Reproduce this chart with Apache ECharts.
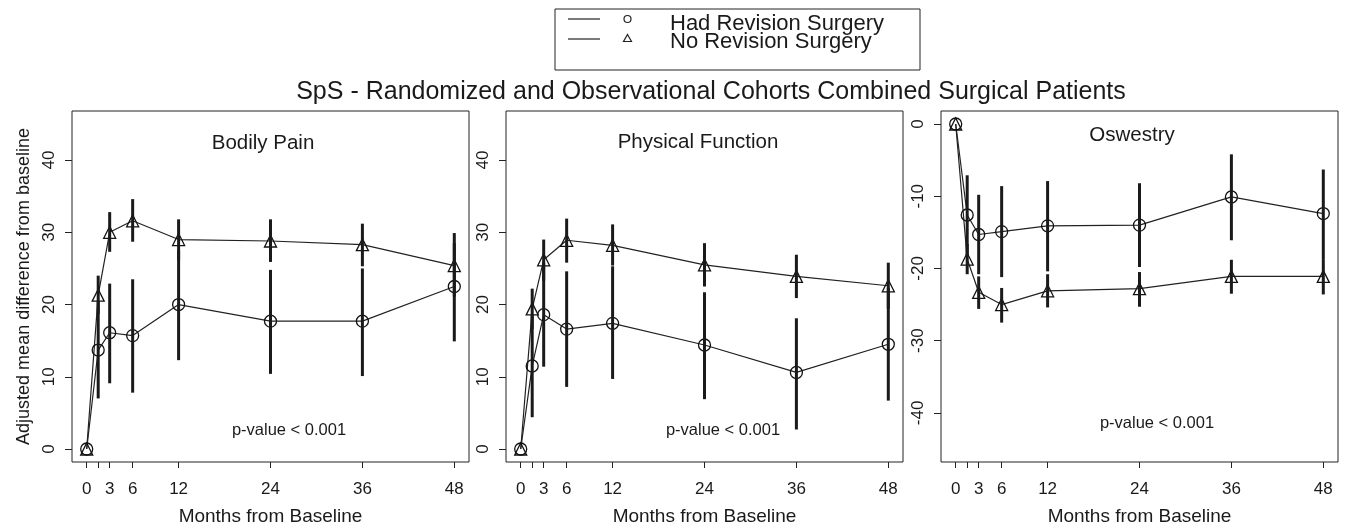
<!DOCTYPE html>
<html>
<head>
<meta charset="utf-8">
<script src="https://cdn.jsdelivr.net/npm/echarts@6/dist/echarts.min.js"></script>
<style>
  html, body { margin: 0; padding: 0; background: #fff; }
  #chart { width: 1350px; height: 531px; }
</style>
</head>
<body>
<div id="chart"></div>
<script>
// months from baseline (1.5 = 6 weeks, unlabelled tick)
const months = [0, 1.5, 3, 6, 12, 24, 36, 48];
const monthLabels = [0, 3, 6, 12, 24, 36, 48];
const sfTicks = [0, 10, 20, 30, 40];
const odiTicks = [0, -10, -20, -30, -40];

// Bodily Pain
const hadBP = [0, 13.7, 16.1, 15.7, 20.0, 17.7, 17.7, 22.5];
const hadBPLo = [0, 7.0, 9.1, 7.8, 12.3, 10.4, 10.1, 14.9];
const hadBPHi = [0, 20.5, 22.9, 23.5, 27.5, 24.8, 25.0, 28.5];
const noBP = [0, 21.3, 30.0, 31.6, 29.0, 28.8, 28.3, 25.4];
const noBPLo = [0, 18.7, 27.3, 28.7, 26.2, 25.9, 25.3, 21.1];
const noBPHi = [0, 24.0, 32.8, 34.6, 31.8, 31.8, 31.2, 29.9];

// Physical Function
const hadPF = [0, 11.5, 18.6, 16.6, 17.4, 14.4, 10.6, 14.5];
const hadPFLo = [0, 4.4, 11.4, 8.6, 9.7, 6.9, 2.7, 6.7];
const hadPFHi = [0, 18.6, 25.8, 24.6, 25.3, 21.7, 18.1, 22.3];
const noPF = [0, 19.4, 26.2, 28.9, 28.2, 25.5, 23.9, 22.6];
const noPFLo = [0, 16.6, 23.3, 25.8, 25.4, 22.5, 20.9, 19.4];
const noPFHi = [0, 22.2, 29.0, 31.9, 31.1, 28.5, 26.9, 25.8];

// Oswestry
const hadODI = [0, -12.6, -15.3, -14.9, -14.1, -14.0, -10.1, -12.4];
const hadODILo = [0, -18.2, -20.8, -21.2, -20.4, -19.8, -16.1, -18.7];
const hadODIHi = [0, -7.1, -9.8, -8.6, -7.9, -8.2, -4.2, -6.3];
const noODI = [0, -18.7, -23.3, -25.0, -23.1, -22.8, -21.1, -21.1];
const noODILo = [0, -20.8, -25.6, -27.5, -25.4, -25.3, -23.5, -23.6];
const noODIHi = [0, -16.6, -21.1, -22.7, -20.8, -20.5, -18.8, -18.7];

const FONT = "'Liberation Sans', Arial, sans-serif";
const INK = "#1a1a1a";

const panels = [
  { name: "Bodily Pain", left: 72, had: hadBP, hadLo: hadBPLo, hadHi: hadBPHi, no: noBP, noLo: noBPLo, noHi: noBPHi, yMin: -1.8, yMax: 46.8, ticks: sfTicks },
  { name: "Physical Function", left: 506, had: hadPF, hadLo: hadPFLo, hadHi: hadPFHi, no: noPF, noLo: noPFLo, noHi: noPFHi, yMin: -1.8, yMax: 46.8, ticks: sfTicks },
  { name: "Oswestry", left: 941, had: hadODI, hadLo: hadODILo, hadHi: hadODIHi, no: noODI, noLo: noODILo, noHi: noODIHi, yMin: -46.8, yMax: 1.8, ticks: odiTicks }
];

const errorBar = (params, api) => {
  const x = api.value(0);
  const p1 = api.coord([x, api.value(1)]);
  const p2 = api.coord([x, api.value(2)]);
  return {
    type: "line",
    shape: { x1: p1[0], y1: p1[1], x2: p2[0], y2: p2[1] },
    style: { stroke: INK, lineWidth: 3 }
  };
};

const grid = [];
const xAxis = [];
const yAxis = [];
const series = [];

panels.forEach((p, i) => {
  grid.push({
    left: p.left, top: 111, width: 397, height: 351,
    show: true, borderColor: "#222", borderWidth: 1, backgroundColor: "transparent"
  });
  xAxis.push({
    type: "value", gridIndex: i, min: -1.92, max: 49.92,
    name: "Months from Baseline", nameLocation: "middle", nameGap: 45,
    nameTextStyle: { fontFamily: FONT, fontSize: 19, color: INK },
    axisLine: { show: false, onZero: false },
    splitLine: { show: false },
    axisTick: { show: true, inside: false, length: 6, customValues: months, lineStyle: { color: "#222" } },
    axisLabel: { customValues: monthLabels, margin: 19, fontFamily: FONT, fontSize: 17, color: INK }
  });
  yAxis.push({
    type: "value", gridIndex: i, min: p.yMin, max: p.yMax,
    name: i === 0 ? "Adjusted mean difference from baseline" : "",
    nameLocation: "middle", nameGap: 39, nameMoveOverlap: false,
    nameTextStyle: { fontFamily: FONT, fontSize: 18, color: INK },
    axisLine: { show: false, onZero: false },
    splitLine: { show: false },
    axisTick: { show: true, inside: false, length: 7, customValues: p.ticks, lineStyle: { color: "#222" } },
    axisLabel: {
      customValues: p.ticks, rotate: 90, margin: 14, align: "center", verticalAlign: "bottom",
      fontFamily: FONT, fontSize: 17, color: INK
    }
  });
  const lineCommon = {
    type: "line", xAxisIndex: i, yAxisIndex: i,
    lineStyle: { color: "#222", width: 1.2 },
    itemStyle: { color: "transparent", borderColor: "#111", borderWidth: 1.3 },
    showAllSymbol: true, animation: false, z: 3
  };
  series.push({
    ...lineCommon, name: "Had Revision Surgery", symbol: "circle", symbolSize: 12,
    data: months.map((m, k) => [m, p.had[k]])
  });
  series.push({
    ...lineCommon, name: "No Revision Surgery", symbol: "triangle", symbolSize: 12,
    data: months.map((m, k) => [m, p.no[k]])
  });
  series.push({
    type: "custom", xAxisIndex: i, yAxisIndex: i, renderItem: errorBar, z: 4, animation: false,
    data: months.slice(1).map((m, k) => [m, p.hadLo[k + 1], p.hadHi[k + 1]])
  });
  series.push({
    type: "custom", xAxisIndex: i, yAxisIndex: i, renderItem: errorBar, z: 4, animation: false,
    data: months.slice(1).map((m, k) => [m, p.noLo[k + 1], p.noHi[k + 1]])
  });
});

const text = (x, y, str, size) => ({
  type: "text", x, y,
  style: { text: str, fontFamily: FONT, fontSize: size, fill: INK, align: "center", verticalAlign: "middle" }
});

const graphic = [
  text(711, 92, "SpS - Randomized and Observational Cohorts Combined Surgical Patients", 25),
  text(263, 143, "Bodily Pain", 20.5),
  text(698, 142, "Physical Function", 20.5),
  text(1132, 135, "Oswestry", 20.5),
  text(289, 430, "p-value < 0.001", 16.5),
  text(723, 430, "p-value < 0.001", 16.5),
  text(1157, 423, "p-value < 0.001", 16.5),
  // legend box
  { type: "rect", shape: { x: 555, y: 9, width: 365, height: 61 }, style: { fill: "#fff", stroke: "#222", lineWidth: 1 } },
  { type: "line", shape: { x1: 568, y1: 19, x2: 600, y2: 19 }, style: { stroke: "#222", lineWidth: 1.2 } },
  { type: "line", shape: { x1: 568, y1: 39, x2: 600, y2: 39 }, style: { stroke: "#222", lineWidth: 1.2 } },
  { type: "circle", shape: { cx: 627.5, cy: 19, r: 3.5 }, style: { fill: "none", stroke: "#222", lineWidth: 1.2 } },
  { type: "polygon", shape: { points: [[627.5, 34.5], [631.5, 41.5], [623.5, 41.5]] }, style: { fill: "none", stroke: "#222", lineWidth: 1.2 } },
  { type: "text", x: 670, y: 23.5, style: { text: "Had Revision Surgery", fontFamily: FONT, fontSize: 22, fill: INK, align: "left", verticalAlign: "middle" } },
  { type: "text", x: 670, y: 42, style: { text: "No Revision Surgery", fontFamily: FONT, fontSize: 22, fill: INK, align: "left", verticalAlign: "middle" } }
];

const chart = echarts.init(document.getElementById("chart"), null, { renderer: "canvas" });
chart.setOption({
  backgroundColor: "#fff",
  animation: false,
  grid, xAxis, yAxis, series, graphic
});
</script>
</body>
</html>
